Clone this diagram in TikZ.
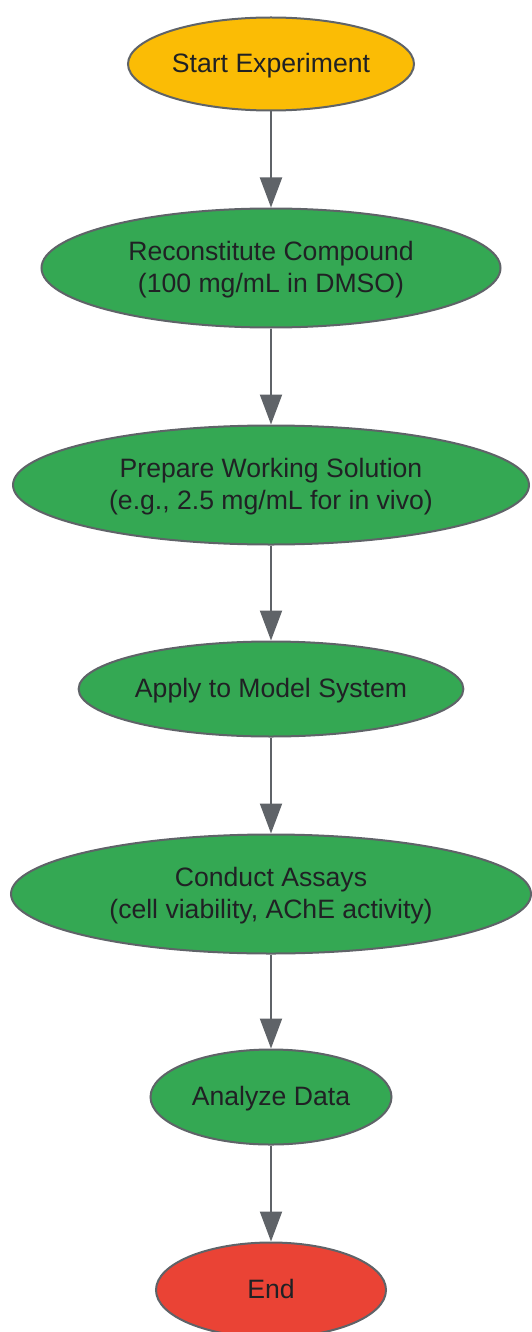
\documentclass[tikz,border=0pt]{standalone}
\usepackage{fontspec}
\setmainfont{Liberation Sans}
\usetikzlibrary{shapes.geometric,arrows.meta}
\definecolor{cyellow}{HTML}{FBBC05}
\definecolor{cgreen}{HTML}{34A853}
\definecolor{cred}{HTML}{EA4335}
\definecolor{cstroke}{HTML}{5F6368}
\definecolor{ctext}{HTML}{202124}
\newcommand{\lstrut}{\rule[-7.5pt]{0pt}{32pt}}
\begin{document}
\begin{tikzpicture}[x=1pt,y=1pt,
  oval/.style={ellipse, draw=cstroke, line width=2pt, inner sep=0pt, text=ctext,
    align=center, font=\fontsize{26.6}{32}\selectfont},
  flow/.style={draw=cstroke, line width=2pt, -{Triangle[length=30pt,width=22pt]}, fill=none}]
\useasboundingbox (0,0) rectangle (532,-1332);
\node[oval, fill=cyellow, minimum width=286, minimum height=93] (start) at (271,-64) {\lstrut Start Experiment};
\node[oval, fill=cgreen, minimum width=459, minimum height=119] (recon) at (271,-268) {\lstrut Reconstitute Compound\\\lstrut (100 mg/mL in DMSO)};
\node[oval, fill=cgreen, minimum width=516, minimum height=119] (prep) at (271,-485) {\lstrut Prepare Working Solution\\\lstrut (e.g., 2.5 mg/mL for in vivo)};
\node[oval, fill=cgreen, minimum width=379, minimum height=95] (apply) at (271,-689) {\lstrut Apply to Model System};
\node[oval, fill=cgreen, minimum width=520, minimum height=119] (assay) at (271,-894) {\lstrut Conduct Assays\\\lstrut (cell viability, AChE activity)};
\node[oval, fill=cgreen, minimum width=241, minimum height=95] (anal) at (271,-1097) {\lstrut Analyze Data};
\node[oval, fill=cred, minimum width=230, minimum height=95] (end) at (271,-1290) {\lstrut End};
\draw[flow] (start) -- (recon);
\draw[flow] (recon) -- (prep);
\draw[flow] (prep) -- (apply);
\draw[flow] (apply) -- (assay);
\draw[flow] (assay) -- (anal);
\draw[flow] (anal) -- (end);
\end{tikzpicture}
\end{document}
